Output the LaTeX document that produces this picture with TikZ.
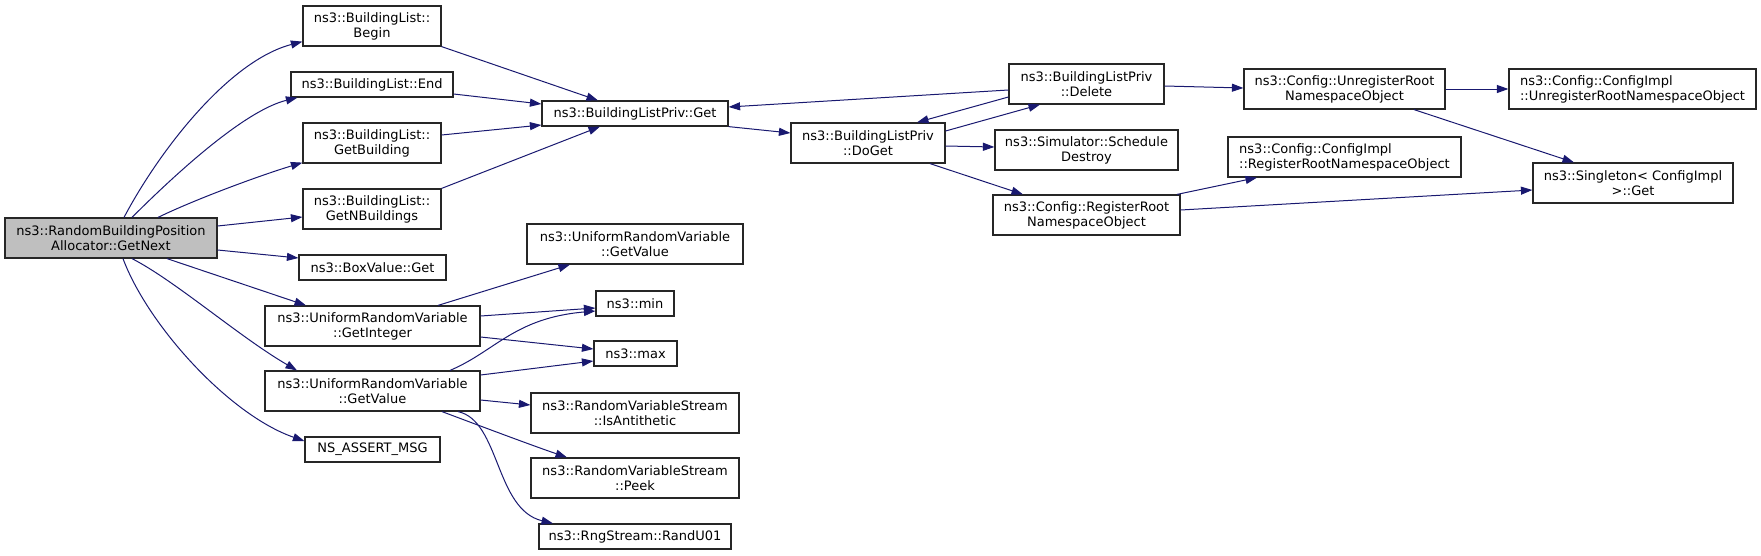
\documentclass[tikz,border=0pt]{standalone}
\usepackage{fontspec}
\setmainfont{DejaVu Sans}
\usepackage{tikz}
\usetikzlibrary{arrows.meta}
\definecolor{azulnoite}{HTML}{191970}
\definecolor{cinzaraiz}{HTML}{BFBFBF}

\begin{document}
\begin{tikzpicture}[
  x=1pt,y=-1pt,
  fn/.style={draw=black!85,line width=1.2pt,fill=white,inner sep=0pt,align=center,
             minimum height=40,font=\fontsize{13}{15}\selectfont},
  fnlinha/.style={fn,minimum height=25},
  raiz/.style={fn,fill=cinzaraiz},
  call/.style={-{Triangle[length=11.5pt,width=8pt]},line width=1pt,azulnoite}
]
  \useasboundingbox (0,0) rectangle (1761,555);
  \node[raiz,minimum width=212] (getnext) at (111,238) {ns3::RandomBuildingPosition\\Allocator::GetNext};
  \node[fn,minimum width=138] (begin) at (372,26) {ns3::BuildingList::\\Begin};
  \node[fnlinha,minimum width=162] (endf) at (372,84.5) {ns3::BuildingList::End};
  \node[fn,minimum width=138] (getbuilding) at (372,143) {ns3::BuildingList::\\GetBuilding};
  \node[fn,minimum width=138] (getnbuildings) at (372,209) {ns3::BuildingList::\\GetNBuildings};
  \node[fnlinha,minimum width=147] (boxget) at (372.5,267.5) {ns3::BoxValue::Get};
  \node[fn,minimum width=215] (getinteger) at (372.5,326) {ns3::UniformRandomVariable\\::GetInteger};
  \node[fn,minimum width=215] (getvalue) at (372.5,391) {ns3::UniformRandomVariable\\::GetValue};
  \node[fnlinha,minimum width=135] (assertmsg) at (372.5,449.5) {NS\_ASSERT\_MSG};
  \node[fnlinha,minimum width=186] (privget) at (635,113.5) {ns3::BuildingListPriv::Get};
  \node[fn,minimum width=216] (urvget) at (635,244) {ns3::UniformRandomVariable\\::GetValue};
  \node[fnlinha,minimum width=78] (minf) at (635,303.5) {ns3::min};
  \node[fnlinha,minimum width=83] (maxf) at (635.5,353.5) {ns3::max};
  \node[fn,minimum width=208] (antithetic) at (635,413) {ns3::RandomVariableStream\\::IsAntithetic};
  \node[fn,minimum width=208] (peek) at (635,478) {ns3::RandomVariableStream\\::Peek};
  \node[fnlinha,minimum width=192] (randu) at (635,536.5) {ns3::RngStream::RandU01};
  \node[fn,minimum width=154] (doget) at (868,143) {ns3::BuildingListPriv\\::DoGet};
  \node[fn,minimum width=155] (deletef) at (1086.5,84) {ns3::BuildingListPriv\\::Delete};
  \node[fn,minimum width=183] (schedule) at (1086.5,150) {ns3::Simulator::Schedule\\Destroy};
  \node[fn,minimum width=187] (regroot) at (1086.5,215) {ns3::Config::RegisterRoot\\NamespaceObject};
  \node[fn,minimum width=201] (unregroot) at (1344.5,89) {ns3::Config::UnregisterRoot\\NamespaceObject};
  \node[fn,minimum width=233,align=left] (implreg) at (1344.5,157) {ns3::Config::ConfigImpl\\::RegisterRootNamespaceObject};
  \node[fn,minimum width=247,align=left] (implunreg) at (1632.5,89) {ns3::Config::ConfigImpl\\::UnregisterRootNamespaceObject};
  \node[fn,minimum width=200] (singleton) at (1633,183) {ns3::Singleton< ConfigImpl\\>::Get};

  \draw[call] ([xshift=13]getnext.north) .. controls +(36,-68) and +(-73,19) .. ([yshift=5]begin.south west);
  \draw[call] ([xshift=21]getnext.north) .. controls +(43,-43) and +(-53,13) .. ([xshift=7]endf.south west);
  \draw[call] ([xshift=47]getnext.north) .. controls +(37,-18) and +(-43,13) .. ([yshift=1]getbuilding.south west);
  \draw[call] ([yshift=12]getnext.east) -- ([yshift=-8]getnbuildings.west);
  \draw[call] ([yshift=-12]getnext.east) -- ([yshift=9.5]boxget.west);
  \draw[call] ([xshift=56]getnext.south) -- ([xshift=-66.5]getinteger.north);
  \draw[call] ([xshift=21]getnext.south) .. controls +(43,22) and +(-57,-33) .. ([xshift=-75.5]getvalue.north);
  \draw[call] ([xshift=12]getnext.south) .. controls +(25,67) and +(-75,-26) .. ([yshift=8.5]assertmsg.west);

  \draw[call] (begin.south east) -- ([xshift=-37]privget.north);
  \draw[call] ([yshift=-9.5]endf.east) -- ([yshift=9.5]privget.west);
  \draw[call] ([yshift=8]getbuilding.east) -- ([yshift=-11.5]privget.west);
  \draw[call] (getnbuildings.north east) -- ([xshift=-35]privget.south);
  \draw[call] (privget.south east) -- ([yshift=10]doget.west);
  \draw[call] ([yshift=12]doget.east) -- ([xshift=-46.5]deletef.south);
  \draw[call] ([yshift=-6]deletef.west) -- ([yshift=6.5]privget.east);
  \draw[call] ([yshift=-13]deletef.west) -- ([xshift=49]doget.north);
  \draw[call] ([yshift=-3]doget.east) -- ([yshift=3]schedule.west);
  \draw[call] ([xshift=62]doget.south) -- ([xshift=-63.5]regroot.north);
  \draw[call] ([yshift=-2]deletef.east) -- ([yshift=1]unregroot.west);
  \draw[call] (unregroot.east) -- (implunreg.west);
  \draw[call] ([xshift=69.5]unregroot.south) -- ([xshift=-59]singleton.north);
  \draw[call] ([xshift=90.5]regroot.north) -- ([xshift=-87.5]implreg.south);
  \draw[call] ([yshift=5]regroot.east) -- ([yshift=-7]singleton.west);

  \draw[call] ([xshift=65.5]getinteger.north) -- ([xshift=-65]urvget.south);
  \draw[call] ([yshift=10]getinteger.east) -- ([yshift=-4.5]minf.west);
  \draw[call] ([yshift=-11]getinteger.east) -- ([yshift=4.5]maxf.west);
  \draw[call] ([xshift=77.5]getvalue.north) .. controls +(45,-19) and +(-81,7) .. ([yshift=-7.5]minf.west);
  \draw[call] ([yshift=16]getvalue.east) -- ([yshift=-7.5]maxf.west);
  \draw[call] ([yshift=-9]getvalue.east) -- ([yshift=8]antithetic.west);
  \draw[call] ([xshift=69.5]getvalue.south) .. controls +(40,15) and +(-35,-12) .. ([xshift=-68]peek.north);
  \draw[call] ([xshift=85.5]getvalue.south) .. controls +(42,9) and +(-58,-14) .. ([xshift=-82]randu.north);
\end{tikzpicture}
\end{document}
